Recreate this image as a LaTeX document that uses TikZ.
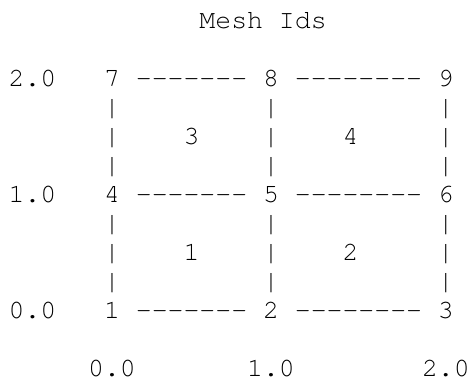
\documentclass[tikz,border=0pt]{standalone}
\usepackage{fontspec}
\setmonofont{TeX Gyre Cursor}
\begin{document}
\begin{tikzpicture}[x=1pt,y=-1pt,
  tok/.style={anchor=base west, inner sep=0pt, outer sep=0pt, text=black,
    text depth=0pt, font=\ttfamily\fontsize{26.5}{29}\selectfont}]
\useasboundingbox (0,0) rectangle (471,379);
\def\w{15.9}\def\h{29.0}\def\xo{8.65}\def\yo{28.5}
\newcommand\tk[4]{\node[tok] (#1) at ({\xo+(#2)*\w},{\yo+(#3)*\h}) {#4};}
% title
\tk{tMesh}{12}{0}{Mesh}
\tk{tIds}{17}{0}{Ids}
% y labels
\tk{y2}{0}{2}{2.0}
\tk{y1}{0}{6}{1.0}
\tk{y0}{0}{10}{0.0}
% x labels
\tk{x0}{5}{12}{0.0}
\tk{x1}{15}{12}{1.0}
\tk{x2}{26}{12}{2.0}
% node ids
\tk{n7}{6}{2}{7}\tk{n8}{16}{2}{8}\tk{n9}{27}{2}{9}
\tk{n4}{6}{6}{4}\tk{n5}{16}{6}{5}\tk{n6}{27}{6}{6}
\tk{n1}{6}{10}{1}\tk{n2}{16}{10}{2}\tk{n3}{27}{10}{3}
% cell ids
\tk{c3}{11}{4}{3}\tk{c4}{21}{4}{4}
\tk{c1}{11}{8}{1}\tk{c2}{21}{8}{2}
% dashes
\foreach \r in {2,6,10}{
  \foreach \i in {8,...,14}{\tk{da\r-\i}{\i}{\r}{-}}
  \foreach \i in {18,...,25}{\tk{db\r-\i}{\i}{\r}{-}}
}
% pipes
\foreach \r in {3,4,5,7,8,9}{
  \foreach \i in {6,16,27}{\tk{p\r-\i}{\i}{\r}{|}}
}
\end{tikzpicture}
\end{document}
